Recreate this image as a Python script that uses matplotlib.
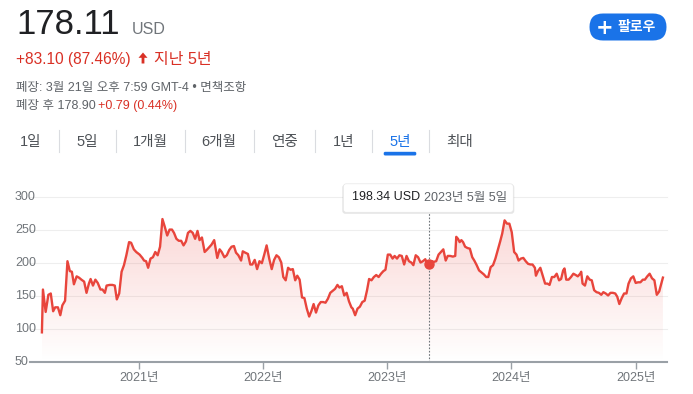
import numpy as np
import pandas as pd
import matplotlib
matplotlib.use("Agg")
import matplotlib.pyplot as plt
import matplotlib.dates as mdates
import matplotlib.transforms as mtransforms
from matplotlib.patches import FancyBboxPatch, Polygon

plt.rcParams['font.family'] = ['Liberation Sans', 'Noto Sans CJK KR']

W, H = 693, 394

# weekly-ish closes
dates = [
    "2020-03-23", "2020-03-26", "2020-04-03", "2020-04-11", "2020-04-18", "2020-04-25", "2020-05-01",
    "2020-05-09", "2020-05-16", "2020-05-22", "2020-05-30", "2020-06-06", "2020-06-13", "2020-06-19",
    "2020-06-25", "2020-07-03", "2020-07-10", "2020-07-17", "2020-07-25", "2020-08-01", "2020-08-08",
    "2020-08-13", "2020-08-20", "2020-08-27", "2020-09-03", "2020-09-11", "2020-09-17", "2020-09-24",
    "2020-09-29", "2020-10-08", "2020-10-16", "2020-10-23", "2020-10-29", "2020-11-05", "2020-11-12",
    "2020-11-19", "2020-11-26", "2020-12-04", "2020-12-10", "2020-12-18", "2020-12-25", "2021-01-04",
    "2021-01-12", "2021-01-17", "2021-01-23", "2021-01-29", "2021-02-05", "2021-02-12", "2021-02-19",
    "2021-02-26", "2021-03-05", "2021-03-12", "2021-03-19", "2021-03-26", "2021-04-02", "2021-04-09",
    "2021-04-15", "2021-04-22", "2021-04-29", "2021-05-06", "2021-05-13", "2021-05-20", "2021-05-26",
    "2021-06-02", "2021-06-09", "2021-06-16", "2021-06-23", "2021-06-29", "2021-07-06", "2021-07-14",
    "2021-07-20", "2021-07-27", "2021-08-03", "2021-08-11", "2021-08-20", "2021-08-27", "2021-09-02",
    "2021-09-10", "2021-09-17", "2021-09-24", "2021-10-01", "2021-10-08", "2021-10-14", "2021-10-21",
    "2021-10-29", "2021-11-03", "2021-11-10", "2021-11-18", "2021-11-25", "2021-12-01", "2021-12-08",
    "2021-12-15", "2021-12-22", "2021-12-29", "2022-01-05", "2022-01-12", "2022-01-20", "2022-01-27",
    "2022-02-03", "2022-02-10", "2022-02-17", "2022-02-24", "2022-03-02", "2022-03-09", "2022-03-16",
    "2022-03-23", "2022-03-30", "2022-04-06", "2022-04-12", "2022-04-19", "2022-04-26", "2022-05-03",
    "2022-05-10", "2022-05-17", "2022-05-24", "2022-05-30", "2022-06-06", "2022-06-13", "2022-06-20",
    "2022-06-27", "2022-07-04", "2022-07-11", "2022-07-18", "2022-07-25", "2022-08-01", "2022-08-08",
    "2022-08-14", "2022-08-21", "2022-08-28", "2022-09-04", "2022-09-11", "2022-09-18", "2022-09-22",
    "2022-09-29", "2022-10-06", "2022-10-13", "2022-10-20", "2022-10-27", "2022-11-03", "2022-11-09",
    "2022-11-16", "2022-11-23", "2022-11-30", "2022-12-07", "2022-12-14", "2022-12-21", "2022-12-27",
    "2023-01-03", "2023-01-10", "2023-01-17", "2023-01-23", "2023-01-30", "2023-02-06", "2023-02-13",
    "2023-02-20", "2023-02-27", "2023-03-06", "2023-03-13", "2023-03-19", "2023-03-26", "2023-04-02",
    "2023-04-09", "2023-04-16", "2023-04-23", "2023-04-29", "2023-05-05", "2023-05-12", "2023-05-18",
    "2023-05-25", "2023-06-01", "2023-06-08", "2023-06-15", "2023-06-22", "2023-06-28", "2023-07-05",
    "2023-07-13", "2023-07-20", "2023-07-23", "2023-07-28", "2023-08-02", "2023-08-07", "2023-08-12",
    "2023-08-18", "2023-08-25", "2023-09-01", "2023-09-08", "2023-09-14", "2023-09-21", "2023-09-28",
    "2023-10-05", "2023-10-12", "2023-10-19", "2023-10-25", "2023-11-01", "2023-11-08", "2023-11-15",
    "2023-11-22", "2023-11-29", "2023-12-05", "2023-12-12", "2023-12-19", "2023-12-26", "2024-01-02",
    "2024-01-09", "2024-01-16", "2024-01-22", "2024-01-29", "2024-02-05", "2024-02-12", "2024-02-19",
    "2024-02-26", "2024-03-03", "2024-03-10", "2024-03-13", "2024-03-19", "2024-03-26", "2024-04-02",
    "2024-04-09", "2024-04-16", "2024-04-22", "2024-04-29", "2024-05-06", "2024-05-13", "2024-05-20",
    "2024-05-26", "2024-06-01", "2024-06-05", "2024-06-10", "2024-06-17", "2024-06-24", "2024-07-01",
    "2024-07-08", "2024-07-14", "2024-07-21", "2024-07-24", "2024-07-28", "2024-08-04", "2024-08-11",
    "2024-08-18", "2024-08-24", "2024-08-31", "2024-09-07", "2024-09-14", "2024-09-21", "2024-09-27",
    "2024-10-04", "2024-10-11", "2024-10-18", "2024-10-25", "2024-11-01", "2024-11-07", "2024-11-13",
    "2024-11-20", "2024-11-27", "2024-12-04", "2024-12-10", "2024-12-17", "2024-12-24", "2024-12-31",
    "2025-01-07", "2025-01-14", "2025-01-21", "2025-01-27", "2025-02-03", "2025-02-10", "2025-02-17",
    "2025-02-24", "2025-03-03", "2025-03-10", "2025-03-21",
]
prices = [
    95.01, 160, 126, 152, 154, 127, 133,
    133, 121, 136, 143, 203, 188, 187,
    168, 180, 178, 175, 172, 155, 169,
    176, 166, 175, 170, 160, 160, 155,
    166, 167, 167, 166, 145, 154, 187,
    197, 212, 232, 231, 221, 217, 213,
    208, 204, 203, 193, 207, 209, 217,
    212, 225, 267, 255, 242, 251, 251,
    246, 237, 234, 234, 227, 233, 246,
    249, 246, 237, 249, 235, 239, 217,
    220, 224, 228, 235, 208, 221, 217,
    209, 212, 220, 225, 226, 216, 212,
    204, 218, 216, 214, 198, 198, 205,
    191, 203, 200, 213, 227, 206, 191,
    205, 212, 209, 201, 179, 174, 193,
    190, 191, 174, 181, 175, 148, 147,
    131, 119, 128, 138, 125, 136, 141,
    141, 140, 146, 155, 158, 161, 167,
    163, 165, 151, 155, 142, 133, 131,
    121, 131, 134, 141, 143, 159, 176,
    174, 179, 182, 179, 184, 188, 190,
    213, 213, 207, 211, 207, 212, 211,
    198, 211, 203, 201, 197, 212, 209,
    201, 203, 206, 199, 198.34, 203, 202,
    203, 213, 217, 221, 204, 211, 211,
    210, 211, 240, 237, 232, 235, 232,
    225, 223, 222, 209, 204, 197, 189,
    186, 183, 179, 179, 194, 197, 207,
    220, 233, 245, 265, 260, 260, 247,
    217, 213, 204, 207, 208, 203, 199,
    198, 198, 193, 181, 188, 193, 181,
    169, 169, 167, 179, 179, 184, 174,
    176, 189, 192, 175, 175, 179, 184,
    182, 180, 184, 187, 169, 166, 180,
    175, 174, 159, 156, 155, 152, 156,
    154, 151, 155, 155, 154, 149, 138,
    147, 154, 154, 169, 177, 180, 170,
    171, 171, 175, 175, 180, 184, 177,
    174, 152, 157, 178.11,
]

hover_date = "2023-05-05"
hover_price = 198.34
after_hours = 178.90
y_ticks = [50, 100, 150, 200, 250, 300]
year_ticks = ["2021-01-01", "2022-01-01", "2023-01-01", "2024-01-01", "2025-01-01"]
year_labels = ["2021년", "2022년", "2023년", "2024년", "2025년"]
tabs = ["1일", "5일", "1개월", "6개월", "연중", "1년", "5년", "최대"]
active_tab = "5년"

RED = "#e8453c"
TXT_RED = "#d93025"
BLUE = "#1a73e8"
GRAY = "#70757a"


def fx(x):
    return x / W


def fy(y):
    return 1 - y / H


def box_px(x0, y0, x1, y1, r, **kw):
    # rounded box given in screen pixels (y down)
    p = FancyBboxPatch((x0 / 100, (H - y1) / 100), (x1 - x0) / 100, (y1 - y0) / 100,
                       boxstyle=f"round,pad=0,rounding_size={r / 100}",
                       transform=fig.dpi_scale_trans, **kw)
    fig.add_artist(p)
    return p


fig = plt.figure(figsize=(W / 100, H / 100), dpi=100)
fig.patch.set_facecolor("white")

# ---- header ----
last = prices[-1]
first = prices[0]
chg = last - first
fig.text(fx(16), fy(34.5), f"{last:.2f}", fontsize=25, color="#202124", va="baseline")
fig.text(fx(131.5), fy(34.5), "USD", fontsize=11.5, color=GRAY, va="baseline")
fig.text(fx(16), fy(64), f"+{chg:.2f} ({chg / first * 100:.2f}%)", fontsize=11.2,
         color=TXT_RED, va="baseline")
arrow = [(143, 52.5), (147.5, 57.8), (144.4, 57.8), (144.4, 63.5), (141.6, 63.5), (141.6, 57.8), (138.5, 57.8)]
fig.add_artist(Polygon([(fx(a), fy(b)) for a, b in arrow], closed=True, transform=fig.transFigure,
                       facecolor=TXT_RED, edgecolor="none"))
fig.text(fx(154), fy(64), "지난 5년", fontsize=11.5, color=TXT_RED, va="baseline")
fig.text(fx(16), fy(90.5), "폐장: 3월 21일 오후 7:59 GMT-4 • 면책조항", fontsize=9.0,
         color="#5f6368", va="baseline")
fig.text(fx(16), fy(109), f"폐장 후 {after_hours:.2f}", fontsize=9.0, color="#5f6368", va="baseline")
ah = after_hours - last
fig.text(fx(98.5), fy(109), f"+{ah:.2f} ({ah / last * 100:.2f}%)", fontsize=9.0,
         color=TXT_RED, va="baseline")

# follow button
box_px(589.5, 13.5, 666.5, 40.5, 13.5, facecolor=BLUE, edgecolor="none")
fig.text(fx(605), fy(27.5), "+", fontsize=15, color="white", ha="center", va="center",
         family="DejaVu Sans", fontweight="bold")
fig.text(fx(637), fy(27.5), "팔로우", fontsize=10, color="white", ha="center", va="center",
         fontweight="bold")

# ---- range tabs ----
tab_x = [31, 87.3, 150.7, 219, 284.3, 343.3, 400, 459.3]
sep_x = [59.3, 116, 185.3, 254.3, 315.3, 372.3, 429.3]
for lab, x in zip(tabs, tab_x):
    col = BLUE if lab == active_tab else "#4d5156"
    fig.text(fx(x), fy(141.7), lab, fontsize=10.5, color=col, ha="center", va="center")
for x in sep_x:
    fig.add_artist(plt.Line2D([fx(x), fx(x)], [fy(130), fy(152)], transform=fig.transFigure,
                              color="#dadce0", lw=0.8))
ix = tabs.index(active_tab)
box_px(tab_x[ix] - 16.3, 151.8, tab_x[ix] + 16.3, 155.5, 1.5, facecolor=BLUE, edgecolor="none")

# ---- chart ----
ax_l, ax_r, ax_t, ax_b = 30, 667, 197.3, 362
ax = fig.add_axes([fx(ax_l), fy(ax_b), (ax_r - ax_l) / W, (ax_b - ax_t) / H])
ax.set_facecolor("none")
d = pd.to_datetime(dates)
x = mdates.date2num(d)
x0 = mdates.date2num(pd.Timestamp("2020-02-17"))
x1 = mdates.date2num(pd.Timestamp("2025-04-02"))
ax.set_xlim(x0, x1)
ax.set_ylim(y_ticks[0], y_ticks[-1])

for v in y_ticks[1:]:
    ax.axhline(v, color="#eeeeee", lw=0.8, zorder=0, clip_on=False)

# gradient fill under the line
verts = np.vstack([np.column_stack([x, prices]), [[x[-1], y_ticks[0]], [x[0], y_ticks[0]]]])
clip = Polygon(verts, closed=True, facecolor="none", edgecolor="none", transform=ax.transData)
ax.add_patch(clip)
grad = np.zeros((256, 1, 4))
grad[..., 0], grad[..., 1], grad[..., 2] = 0.91, 0.27, 0.24
grad[:, 0, 3] = np.linspace(0.0, 0.21, 256)
im = ax.imshow(grad, extent=[x[0], x[-1], 50, 270], origin="lower", aspect="auto", zorder=1)
im.set_clip_path(clip)

ax.plot(x, prices, color=RED, lw=1.7, solid_joinstyle="round", zorder=3)

# hover marker + tooltip
hx = mdates.date2num(pd.Timestamp(hover_date))
tip_bot = 212.3
ax.axvline(hx, ymin=0, ymax=(ax_b - tip_bot) / (ax_b - ax_t), color=GRAY, lw=0.8,
           ls=(0, (1.5, 1.5)), zorder=2)
ax.plot([hx], [hover_price], "o", ms=6.5, color=RED, zorder=4)

for s in ["top", "right", "left"]:
    ax.spines[s].set_visible(False)
ax.spines["bottom"].set_color("#9aa0a6")
ax.spines["bottom"].set_linewidth(1.5)
ax.set_yticks([])
ax.set_xticks(mdates.date2num(pd.to_datetime(year_ticks)))
ax.set_xticklabels(year_labels)
ax.tick_params(axis="x", length=5, width=1, color="#9aa0a6", labelsize=9, labelcolor=GRAY, pad=2)

trans = mtransforms.blended_transform_factory(ax.transAxes, ax.transData)
for v in y_ticks:
    ax.text((15 - ax_l) / (ax_r - ax_l), v, str(v), transform=trans, ha="left", va="center",
            fontsize=9, color=GRAY)

# tooltip box (with soft shadow)
box_px(342.3, 184.5, 514.3, 213.8, 3, facecolor="#000000", alpha=0.10, edgecolor="none")
box_px(343.3, 183.8, 513.3, 212.3, 3, facecolor="white", edgecolor="#e6e6e6", lw=0.5)
fig.text(fx(351.7), fy(197.5), f"{hover_price:.2f} USD", fontsize=9, color="#202124", va="center")
hd = pd.Timestamp(hover_date)
fig.text(fx(424), fy(197.5), f"{hd.year}년 {hd.month}월 {hd.day}일", fontsize=9,
         color="#5f6368", va="center")

fig.savefig("out.png", dpi=100, facecolor="white")
